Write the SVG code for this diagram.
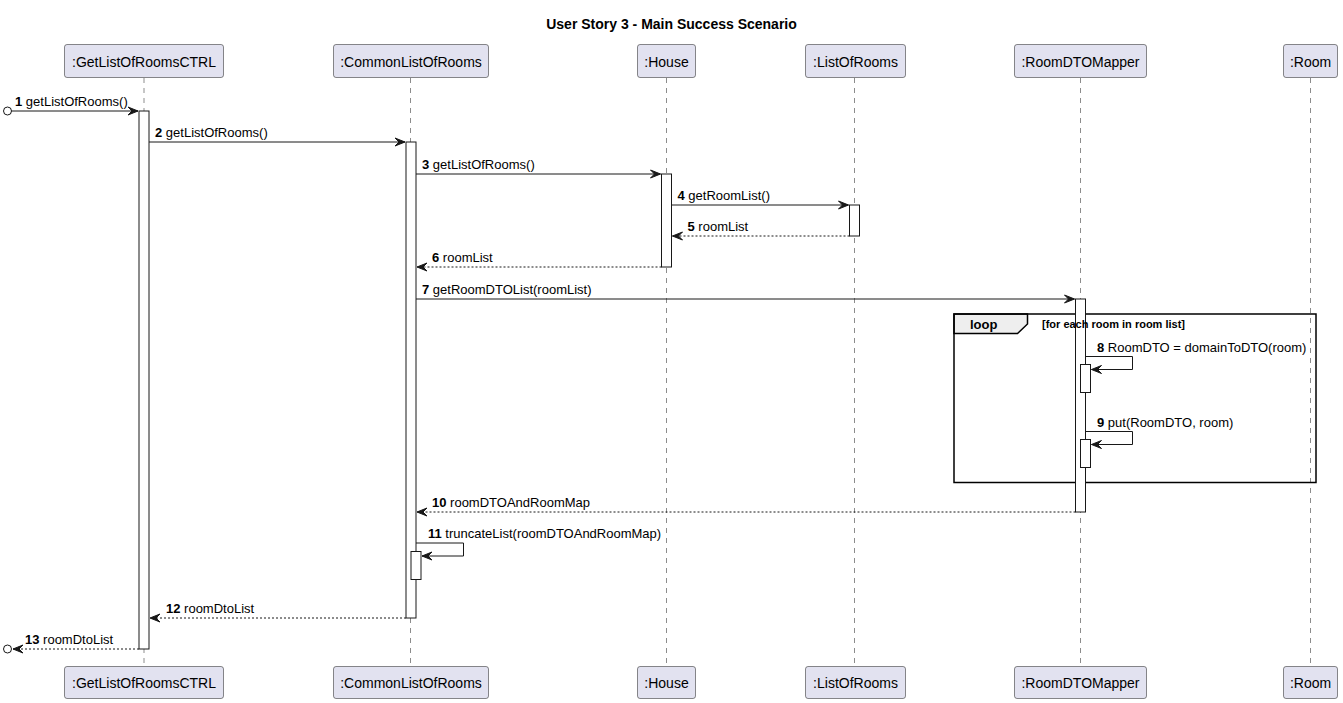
<svg xmlns="http://www.w3.org/2000/svg" width="1343" height="703" viewBox="0 0 1343 703">
<defs>
<style>
text{font-family:"Liberation Sans",Arial,sans-serif;fill:#000}
.title{font-size:14px;font-weight:bold}
.pt{font-size:14px}
.msg{font-size:13px}
.num{font-weight:bold}
.part{fill:#E2E2F0;stroke:#181818;stroke-width:0.5}
.life{stroke:#181818;stroke-width:0.5;stroke-dasharray:5,5;fill:none}
.act{fill:#FFFFFF;stroke:#181818;stroke-width:1}
.ln{stroke:#181818;stroke-width:1;fill:none}
.dash{stroke:#181818;stroke-width:1;fill:none;stroke-dasharray:2,2}
.ah{fill:#181818;stroke:#181818;stroke-width:1}
.frame{fill:none;stroke:#000;stroke-width:1.5}
.tab{fill:#EEEEEE;stroke:#000;stroke-width:1.5}
.fl{font-size:13px;font-weight:bold}
.guard{font-size:11px;font-weight:bold}
</style>
</defs>
<rect width="1343" height="703" fill="#FFFFFF"/>
<text class="title" x="671.5" y="29" text-anchor="middle">User Story 3 - Main Success Scenario</text>

<g id="lifelines">
<line class="life" x1="144" y1="78" x2="144" y2="666"/>
<line class="life" x1="410.5" y1="78" x2="410.5" y2="666"/>
<line class="life" x1="666.5" y1="78" x2="666.5" y2="666"/>
<line class="life" x1="854.5" y1="78" x2="854.5" y2="666"/>
<line class="life" x1="1080.5" y1="78" x2="1080.5" y2="666"/>
<line class="life" x1="1310.5" y1="78" x2="1310.5" y2="666"/>
</g>

<g id="p-ctrl">
<rect class="part" x="64.5" y="44.5" width="159" height="33" rx="2.5"/>
<text class="pt" x="144" y="66.5" text-anchor="middle">:GetListOfRoomsCTRL</text>
<rect class="part" x="64.5" y="666.5" width="159" height="32" rx="2.5"/>
<text class="pt" x="144" y="688" text-anchor="middle">:GetListOfRoomsCTRL</text>
</g>
<g id="p-common">
<rect class="part" x="333.5" y="44.5" width="155" height="33" rx="2.5"/>
<text class="pt" x="411" y="66.5" text-anchor="middle">:CommonListOfRooms</text>
<rect class="part" x="333.5" y="666.5" width="155" height="32" rx="2.5"/>
<text class="pt" x="411" y="688" text-anchor="middle">:CommonListOfRooms</text>
</g>
<g id="p-house">
<rect class="part" x="637.5" y="44.5" width="58" height="33" rx="2.5"/>
<text class="pt" x="666.5" y="66.5" text-anchor="middle">:House</text>
<rect class="part" x="637.5" y="666.5" width="58" height="32" rx="2.5"/>
<text class="pt" x="666.5" y="688" text-anchor="middle">:House</text>
</g>
<g id="p-listofrooms">
<rect class="part" x="805.5" y="44.5" width="100" height="33" rx="2.5"/>
<text class="pt" x="855.5" y="66.5" text-anchor="middle">:ListOfRooms</text>
<rect class="part" x="805.5" y="666.5" width="100" height="32" rx="2.5"/>
<text class="pt" x="855.5" y="688" text-anchor="middle">:ListOfRooms</text>
</g>
<g id="p-mapper">
<rect class="part" x="1014.5" y="44.5" width="132" height="33" rx="2.5"/>
<text class="pt" x="1080.5" y="66.5" text-anchor="middle">:RoomDTOMapper</text>
<rect class="part" x="1014.5" y="666.5" width="132" height="32" rx="2.5"/>
<text class="pt" x="1080.5" y="688" text-anchor="middle">:RoomDTOMapper</text>
</g>
<g id="p-room">
<rect class="part" x="1283.5" y="44.5" width="54" height="33" rx="2.5"/>
<text class="pt" x="1310.5" y="66.5" text-anchor="middle">:Room</text>
<rect class="part" x="1283.5" y="666.5" width="54" height="32" rx="2.5"/>
<text class="pt" x="1310.5" y="688" text-anchor="middle">:Room</text>
</g>

<g id="loop-frame">
<polygon class="tab" points="954,314 1027.5,314 1027.5,324 1017.5,333.5 954,333.5"/>
<rect class="frame" x="954" y="314" width="362" height="168.5"/>
<text class="fl" x="970" y="329">loop</text>
</g>

<g id="activations">
<rect class="act" x="139" y="111" width="10" height="538"/>
<rect class="act" x="406" y="142" width="10" height="476"/>
<rect class="act" x="411" y="551.5" width="10" height="28"/>
<rect class="act" x="661.5" y="174" width="10" height="93"/>
<rect class="act" x="849.5" y="205" width="10" height="31"/>
<rect class="act" x="1075.5" y="299" width="10" height="213"/>
<rect class="act" x="1080.5" y="364.5" width="10" height="28"/>
<rect class="act" x="1080.5" y="439.5" width="10" height="28"/>
</g>

<text class="guard" x="1042" y="328">[for each room in room list]</text>

<g id="connectors">
<!-- 1 -->
<circle cx="7.5" cy="111" r="4" fill="none" stroke="#181818" stroke-width="1"/>
<line class="ln" x1="11.5" y1="111" x2="138" y2="111"/>
<polygon class="ah" points="128,107 138,111 128,115 132,111"/>
<!-- 2 -->
<line class="ln" x1="149" y1="142" x2="405" y2="142"/>
<polygon class="ah" points="395,138 405,142 395,146 399,142"/>
<!-- 3 -->
<line class="ln" x1="416" y1="174" x2="660.5" y2="174"/>
<polygon class="ah" points="650.5,170 660.5,174 650.5,178 654.5,174"/>
<!-- 4 -->
<line class="ln" x1="671.5" y1="205" x2="848.5" y2="205"/>
<polygon class="ah" points="838.5,201 848.5,205 838.5,209 842.5,205"/>
<!-- 5 -->
<line class="dash" x1="849.5" y1="236" x2="672.5" y2="236"/>
<polygon class="ah" points="682.5,232 672.5,236 682.5,240 678.5,236"/>
<!-- 6 -->
<line class="dash" x1="661.5" y1="267" x2="417" y2="267"/>
<polygon class="ah" points="427,263 417,267 427,271 423,267"/>
<!-- 7 -->
<line class="ln" x1="416" y1="299" x2="1074.5" y2="299"/>
<polygon class="ah" points="1064.5,295 1074.5,299 1064.5,303 1068.5,299"/>
<!-- 8 -->
<polyline class="ln" points="1085.5,356.5 1132.5,356.5 1132.5,369.5 1091.5,369.5"/>
<polygon class="ah" points="1101.5,365.5 1091.5,369.5 1101.5,373.5 1097.5,369.5"/>
<!-- 9 -->
<polyline class="ln" points="1085.5,431.5 1132.5,431.5 1132.5,444.5 1091.5,444.5"/>
<polygon class="ah" points="1101.5,440.5 1091.5,444.5 1101.5,448.5 1097.5,444.5"/>
<!-- 10 -->
<line class="dash" x1="1075.5" y1="512" x2="417" y2="512"/>
<polygon class="ah" points="427,508 417,512 427,516 423,512"/>
<!-- 11 -->
<polyline class="ln" points="416,543 463.5,543 463.5,556 422,556"/>
<polygon class="ah" points="432,552 422,556 432,560 428,556"/>
<!-- 12 -->
<line class="dash" x1="406" y1="618" x2="150" y2="618"/>
<polygon class="ah" points="160,614 150,618 160,622 156,618"/>
<!-- 13 -->
<line class="dash" x1="139" y1="649" x2="13" y2="649"/>
<polygon class="ah" points="23,645 13,649 23,653 19,649"/>
<circle cx="7.5" cy="649" r="4" fill="none" stroke="#181818" stroke-width="1"/>
</g>

<g id="labels">
<text class="msg" x="15" y="106"><tspan class="num">1</tspan> getListOfRooms()</text>
<text class="msg" x="155" y="137"><tspan class="num">2</tspan> getListOfRooms()</text>
<text class="msg" x="422" y="169"><tspan class="num">3</tspan> getListOfRooms()</text>
<text class="msg" x="677.5" y="200"><tspan class="num">4</tspan> getRoomList()</text>
<text class="msg" x="687.5" y="231"><tspan class="num">5</tspan> roomList</text>
<text class="msg" x="432" y="262"><tspan class="num">6</tspan> roomList</text>
<text class="msg" x="422" y="294"><tspan class="num">7</tspan> getRoomDTOList(roomList)</text>
<text class="msg" x="1097" y="352"><tspan class="num">8</tspan> RoomDTO = domainToDTO(room)</text>
<text class="msg" x="1097" y="427"><tspan class="num">9</tspan> put(RoomDTO, room)</text>
<text class="msg" x="432" y="507"><tspan class="num">10</tspan> roomDTOAndRoomMap</text>
<text class="msg" x="428" y="538"><tspan class="num">11</tspan> truncateList(roomDTOAndRoomMap)</text>
<text class="msg" x="166" y="613"><tspan class="num">12</tspan> roomDtoList</text>
<text class="msg" x="25" y="644"><tspan class="num">13</tspan> roomDtoList</text>
</g>
</svg>
